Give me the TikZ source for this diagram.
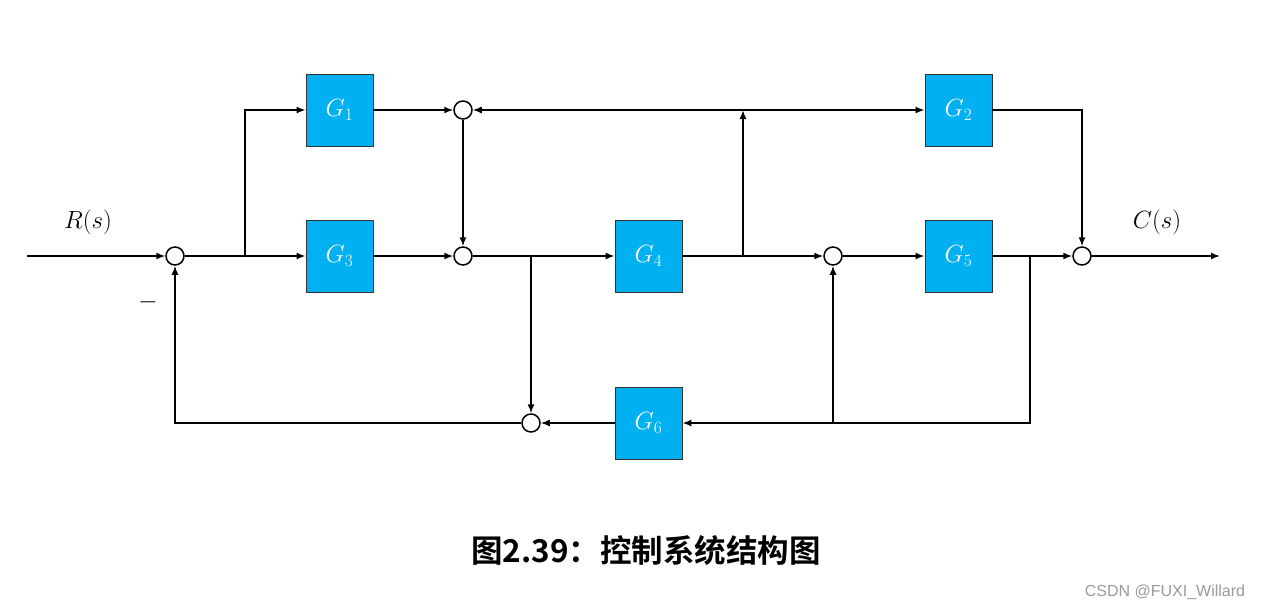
\documentclass[tikz,border=0pt]{standalone}
\usepackage{fontspec}
\usepackage{tikz}
\usetikzlibrary{arrows.meta, positioning}
\newfontfamily\cjkbold{Noto Sans CJK SC Bold}
\newfontfamily\wmfont{Liberation Sans}
\definecolor{blockblue}{RGB}{0,176,240}

\begin{document}
\begin{tikzpicture}[x=1pt, y=-1pt,
        >={Latex[length=9pt, width=7pt]},
        block/.style={rectangle, draw=black!80, line width=0.9pt, fill=blockblue,
          minimum width=67pt, minimum height=72pt, inner sep=0pt,
          text=white, font=\fontsize{25}{29}\selectfont},
        sum/.style={circle, draw, line width=1.5pt, fill=white, minimum size=18pt, inner sep=0pt},
        sig/.style={->, line width=1.5pt},
        lbl/.style={font=\fontsize{23}{27}\selectfont},
      ]
        \useasboundingbox (0,0) rectangle (1261,611);
        % blocks
        \node[block] (G1) at (339.5,110) {$G_1$};
        \node[block] (G3) at (339.5,256) {$G_3$};
        \node[block] (G4) at (648.5,256) {$G_4$};
        \node[block] (G2) at (958.5,110) {$G_2$};
        \node[block] (G5) at (958.5,256) {$G_5$};
        \node[block] (G6) at (648.5,423) {$G_6$};
        % summing points
        \node[sum] (sum1) at (175,256) {};
        \node[sum] (sum2) at (463,110) {};
        \node[sum] (sum3) at (463,256) {};
        \node[sum] (sum4) at (833,256) {};
        \node[sum] (sum5) at (1082,256) {};
        \node[sum] (sum6) at (531,423) {};
        % branch points
        \coordinate (in) at (27,256);
        \coordinate (out) at (1220,256);
        \coordinate (b1) at (245,256);
        \coordinate (b2) at (531,256);
        \coordinate (b3) at (743,256);
        \coordinate (b3up) at (743,110);
        \coordinate (b4) at (1030,256);
        \coordinate (b4dn) at (1030,423);
        \coordinate (b5) at (833,423);
        % labels
        \node[lbl] (rs) at (88,222) {$R(s)$};
        \node[lbl] (cs) at (1157,222) {$C(s)$};
        \node[lbl] (minus) at (148,302) {$-$};
        % forward paths
        \draw[sig] (in) -- (sum1);
        \draw[sig] (sum1) -- (G3);
        \draw[sig] (b1) |- (G1);
        \draw[sig] (G1) -- (sum2);
        \draw[sig] (sum2) -- (sum3);
        \draw[sig] (G3) -- (sum3);
        \draw[sig] (sum3) -- (G4);
        \draw[sig] (G4) -- (sum4);
        \draw[sig] (b3) -- (b3up);
        \draw[sig] (b3up) -- (sum2);
        \draw[sig] (b3up) -- (G2);
        \draw[sig] (G2) -| (sum5);
        \draw[sig] (sum4) -- (G5);
        \draw[sig] (G5) -- (sum5);
        \draw[sig] (sum5) -- (out);
        % feedback paths
        \draw[sig] (b2) -- (sum6);
        \draw[sig] (b4) -- (b4dn) -- (G6);
        \draw[sig] (b5) -- (sum4);
        \draw[sig] (G6) -- (sum6);
        \draw[sig] (sum6) -| (sum1);
        % caption
        \node[font=\cjkbold\fontsize{31.5}{36}\selectfont] (title) at (646,550) {图2.39：控制系统结构图};
        \node[font=\wmfont\fontsize{16}{18}\selectfont, text=black!40] (mark) at (1165,592) {CSDN @FUXI\_Willard};
      \end{tikzpicture}
\end{document}
